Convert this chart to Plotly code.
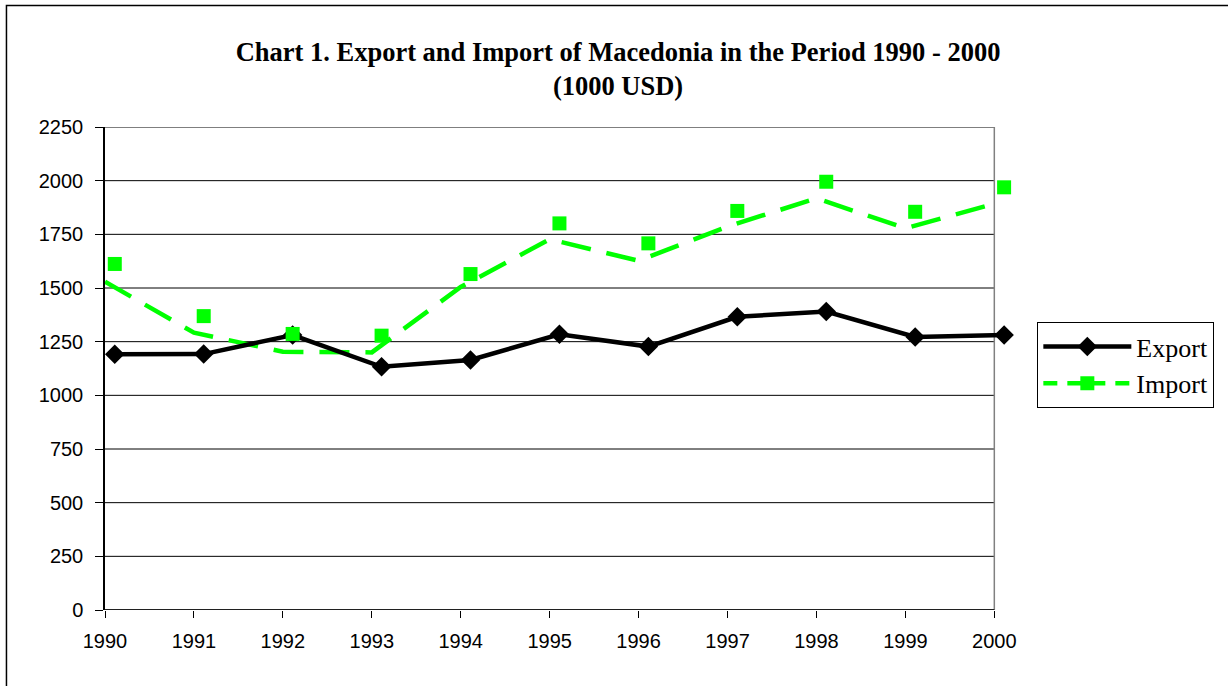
import plotly.graph_objects as go

years = [1990, 1991, 1992, 1993, 1994, 1995, 1996, 1997, 1998, 1999, 2000]
export_vals = [1191, 1192, 1281, 1133, 1165, 1284, 1227, 1366, 1390, 1272, 1281]
import_marker_vals = [1612, 1369, 1286, 1278, 1565, 1801, 1708, 1859, 1995, 1855, 1969]
import_line_vals = [1529, 1292, 1203, 1200, 1505, 1727, 1627, 1786, 1918, 1778, 1893]
y_ticks = [0, 250, 500, 750, 1000, 1250, 1500, 1750, 2000, 2250]

GREEN = "#00FF00"
X_EXTRA = 0.3      # plot area extends a bit past 2000 so shifted markers are not clipped
MARK_SHIFT = 0.11  # markers drawn slightly right of the category position

fig = go.Figure()

fig.add_trace(go.Scatter(
    x=years, y=import_line_vals, mode="lines", xaxis="x", yaxis="y",
    line=dict(color=GREEN, width=4.5, dash="30px,16px"), showlegend=False, hoverinfo="skip"))
fig.add_trace(go.Scatter(
    x=years, y=export_vals, mode="lines+markers", xaxis="x2", yaxis="y",
    line=dict(color="black", width=4.5), cliponaxis=False,
    marker=dict(symbol="diamond", size=15, color="black"), showlegend=False))
fig.add_trace(go.Scatter(
    x=years, y=import_marker_vals, mode="markers", xaxis="x2", yaxis="y",
    cliponaxis=False,
    marker=dict(symbol="square", size=14, color=GREEN), showlegend=False))

# legend-only entries
fig.add_trace(go.Scatter(
    x=[None], y=[None], mode="lines+markers", name="Export",
    line=dict(color="black", width=4.5),
    marker=dict(symbol="diamond", size=15, color="black")))
fig.add_trace(go.Scatter(
    x=[None], y=[None], mode="lines+markers", name="Import",
    line=dict(color=GREEN, width=4.5, dash="14px,10px"),
    marker=dict(symbol="square", size=14, color=GREEN)))

PLOT_L, PLOT_T, PLOT_B = 105, 127, 610
PW = 889 * (10 + X_EXTRA) / 10.0
PH = PLOT_B - PLOT_T

shapes = []
for v in y_ticks:
    shapes.append(dict(type="line", xref="x", yref="y", x0=years[0], x1=years[-1], y0=v, y1=v,
                       line=dict(color="black", width=1), layer="below"))
shapes.append(dict(type="line", xref="x", yref="y", x0=years[-1], x1=years[-1],
                   y0=y_ticks[0], y1=y_ticks[-1], line=dict(color="#808080", width=1.5), layer="below"))
shapes.append(dict(type="line", xref="x", yref="y", x0=years[0], x1=years[-1],
                   y0=y_ticks[0], y1=y_ticks[0], line=dict(color="black", width=1.5)))
shapes.append(dict(type="rect", xref="paper", yref="paper",
                   x0=(6.5 - PLOT_L) / PW, x1=(1240 - PLOT_L) / PW,
                   y0=(PLOT_B - 700) / PH, y1=(PLOT_B - 5.5) / PH,
                   line=dict(color="black", width=1.5)))

fig.update_layout(
    width=1228, height=686,
    margin=dict(l=PLOT_L, r=int(round(1228 - PLOT_L - PW)), t=PLOT_T, b=686 - PLOT_B),
    paper_bgcolor="white", plot_bgcolor="white",
    title=dict(
        text="<b>Chart 1. Export and Import of Macedonia in the Period 1990 - 2000<br>(1000 USD)</b>",
        x=0.5033, xanchor="center", y=0.9114, yanchor="middle",
        font=dict(family="Liberation Serif", size=26.5, color="black")),
    xaxis=dict(
        range=[years[0], years[-1] + X_EXTRA], tickmode="array", tickvals=years,
        ticktext=[str(y) for y in years],
        showgrid=False, zeroline=False, showline=False,
        ticks="outside", ticklen=7, tickcolor="black", tickwidth=1,
        ticklabelstandoff=6,
        tickfont=dict(family="Liberation Sans", size=20, color="black")),
    xaxis2=dict(range=[years[0] - MARK_SHIFT, years[-1] + X_EXTRA - MARK_SHIFT],
                overlaying="x", visible=False),
    yaxis=dict(
        range=[y_ticks[0], y_ticks[-1]], tickmode="array", tickvals=y_ticks,
        showgrid=False, zeroline=False,
        showline=True, linecolor="black", linewidth=1.5,
        ticks="outside", ticklen=8, tickcolor="black",
        ticklabelstandoff=8,
        tickfont=dict(family="Liberation Sans", size=20, color="black")),
    legend=dict(
        x=(1037 - PLOT_L) / PW, y=0.507, xanchor="left", yanchor="middle",
        bgcolor="white", bordercolor="black", borderwidth=1,
        font=dict(family="Liberation Serif", size=26, color="black"),
        itemwidth=88, tracegroupgap=4),
    shapes=shapes,
)

fig.write_html("out.html", config={"displayModeBar": False},
               post_script="document.body.style.margin='0';")
